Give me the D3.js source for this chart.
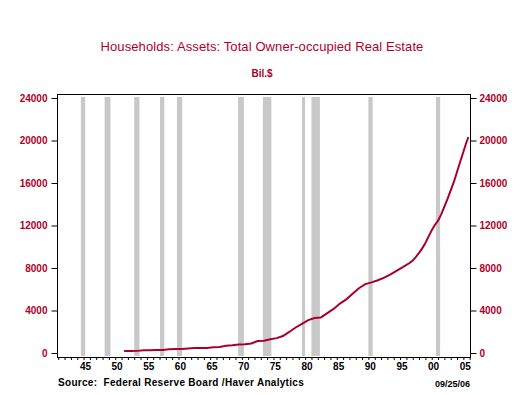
<!DOCTYPE html>
<html>
<head>
<meta charset="utf-8">
<script src="https://cdn.jsdelivr.net/npm/d3@7"></script>
<style>
  body { margin: 0; background: #fff; }
  text { font-family: Arial, "Liberation Sans", sans-serif; }
</style>
</head>
<body>
<svg id="chart" width="528" height="395"></svg>
<script>
// data (decimal years, Bil.$)
const years = [1951.9, 1953, 1954, 1955, 1956, 1957, 1958, 1959, 1960, 1961, 1962, 1963, 1964, 1965,
  1966, 1967, 1968, 1969, 1970, 1971, 1972, 1973, 1974, 1975, 1976, 1977, 1978, 1979, 1980,
  1981, 1982, 1983, 1984, 1985, 1986, 1987, 1988, 1989, 1990, 1991, 1992, 1993, 1994, 1995,
  1996, 1997, 1997.5, 1998, 1998.5, 1999, 1999.5, 2000, 2000.5, 2001, 2001.5, 2002,
  2003, 2004, 2005, 2006, 2006.3]
const values = [180, 190, 200, 265, 270, 275, 280, 360, 370, 375, 430, 460, 465, 470,
  530, 570, 680, 720, 790, 820, 900, 1130, 1150, 1300, 1400, 1600, 1980, 2400, 2750,
  3100, 3300, 3350, 3750, 4150, 4650, 5050, 5580, 6100, 6480, 6650, 6850, 7100, 7400, 7750,
  8100, 8470, 8700, 9050, 9430, 9850, 10350, 10950, 11550, 12050, 12450, 13050,
  14500, 16100, 18000, 19860, 20330]

// recessions (shaded bars)
const recessionStart = [1945.08, 1948.83, 1953.5, 1957.58, 1960.25, 1969.92, 1973.83, 1980.0, 1981.5, 1990.5, 2001.17]
const recessionEnd   = [1945.75, 1949.75, 1954.33, 1958.25, 1961.08, 1970.83, 1975.17, 1980.5, 1982.83, 1991.17, 2001.83]

const yTicks = [0, 4000, 8000, 12000, 16000, 20000, 24000]
const xLabelYears = [1945, 1950, 1955, 1960, 1965, 1970, 1975, 1980, 1985, 1990, 1995, 2000, 2005]

const red = "#b0002a"
const frame = {left: 57, right: 470, top: 94, bottom: 357}

const svg = d3.select("#chart")

const xscale = d3.scaleLinear().domain([1945, 2006.5]).range([80.4, 80.4 + 61.5 * 6.33])
const yscale = d3.scaleLinear().domain([0, 24000]).range([353, 98])

// titles
svg.append("text")
  .attr("x", 262).attr("y", 51)
  .attr("text-anchor", "middle")
  .attr("fill", red)
  .style("font-size", "13px")
  .style("letter-spacing", "0.1px")
  .text("Households: Assets: Total Owner-occupied Real Estate")

svg.append("text")
  .attr("x", 262).attr("y", 77)
  .attr("text-anchor", "middle")
  .attr("fill", red)
  .style("font-size", "10px").style("font-weight", "bold")
  .text("Bil.$")

// recession shading
svg.append("g")
  .selectAll("rect")
  .data(recessionStart)
  .join("rect")
  .attr("x", (d) => xscale(d))
  .attr("width", (d, i) => Math.max(2, xscale(recessionEnd[i]) - xscale(d)))
  .attr("y", yscale(24000) - 1)
  .attr("height", frame.bottom - 1 - (yscale(24000) - 1))
  .attr("fill", "#c8c8c8")

// the series
const line = d3.line()
  .x((d, i) => xscale(years[i]))
  .y((d) => yscale(d))

svg.append("path")
  .datum(values)
  .attr("fill", "none")
  .attr("stroke", "#a8002a")
  .attr("stroke-width", 2)
  .attr("d", line)

// frame
svg.append("rect")
  .attr("x", frame.left + 0.5).attr("y", frame.top + 0.5)
  .attr("width", frame.right - frame.left).attr("height", frame.bottom - frame.top)
  .attr("fill", "none").attr("stroke", "#000").attr("stroke-width", 1)

// left and right axes
const left = svg.append("g")
  .attr("transform", `translate(${frame.left + 0.5},0)`)
  .call(d3.axisLeft(yscale).tickValues(yTicks).tickSize(6).tickPadding(4).tickFormat(d3.format("d")))
const right = svg.append("g")
  .attr("transform", `translate(${frame.right + 0.5},0)`)
  .call(d3.axisRight(yscale).tickValues(yTicks).tickSize(6).tickPadding(3).tickFormat(d3.format("d")))

for (const ax of [left, right]) {
  ax.select(".domain").remove()
  ax.selectAll(".tick line").attr("stroke", "#000")
  ax.selectAll(".tick text")
    .attr("fill", red)
    .style("font-size", "10px").style("font-weight", "bold")
    .style("font-family", "Arial, 'Liberation Sans', sans-serif")
}

// bottom axis: a tick each year, labels every five
const bottom = svg.append("g")
  .attr("transform", `translate(0,${frame.bottom + 1})`)
  .call(d3.axisBottom(xscale)
    .tickValues(d3.range(1941, 2007).map((y) => y + 0.5))
    .tickSize(2)
    .tickFormat(""))
bottom.select(".domain").remove()
bottom.selectAll(".tick line").attr("stroke", "#000")

svg.append("g")
  .selectAll("text")
  .data(xLabelYears)
  .join("text")
  .attr("x", (d) => xscale(d + 0.8))
  .attr("y", 370)
  .attr("text-anchor", "middle")
  .attr("fill", "#000")
  .style("font-size", "10px").style("font-weight", "bold")
  .text((d) => String(d).slice(2))

// footer
svg.append("text")
  .attr("x", 58).attr("y", 386)
  .style("font-size", "10px").style("font-weight", "bold")
  .style("letter-spacing", "0.3px")
  .attr("fill", "#000")
  .attr("xml:space", "preserve")
  .text("Source:  Federal Reserve Board /Haver Analytics")

svg.append("text")
  .attr("x", 470).attr("y", 387)
  .attr("text-anchor", "end")
  .style("font-size", "9px").style("font-weight", "bold")
  .attr("fill", "#000")
  .text("09/25/06")
</script>
</body>
</html>
